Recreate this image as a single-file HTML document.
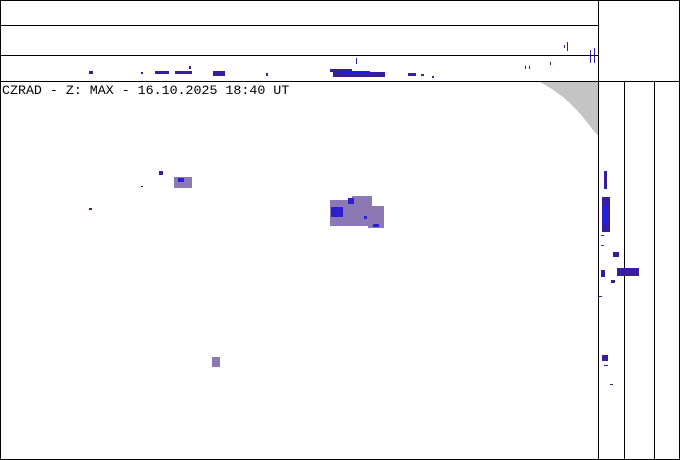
<!DOCTYPE html>
<html><head><meta charset="utf-8"><style>
html,body{margin:0;padding:0;background:#fff;}
svg{display:block;}
text{font-family:"Liberation Mono",monospace;}
</style></head><body>
<svg width="680" height="460" viewBox="0 0 680 460" xmlns="http://www.w3.org/2000/svg" shape-rendering="crispEdges">
<rect width="680" height="460" fill="#fff"/>
<polygon points="540,82 598,82 598,136 590,126 582,116 573,106 563,97 552,89" fill="#c4c4c4"/>
<g stroke="#000" stroke-width="1.3" fill="none">
<rect x="0.5" y="0.5" width="679" height="459"/>
<line x1="0" y1="25.5" x2="598" y2="25.5"/>
<line x1="0" y1="55.5" x2="598" y2="55.5"/>
<line x1="0" y1="81.5" x2="680" y2="81.5"/>
<line x1="598.5" y1="0" x2="598.5" y2="460"/>
<line x1="624.5" y1="81" x2="624.5" y2="460"/>
<line x1="654.5" y1="81" x2="654.5" y2="460"/>
</g>
<text x="2" y="94" font-size="13.3" fill="#000">CZRAD - Z: MAX - 16.10.2025 18:40 UT</text>
<!-- top strip -->
<g fill="#3a1ca0">
<rect x="89" y="71" width="4" height="3"/>
<rect x="141" y="72" width="2" height="2"/>
<rect x="155" y="71" width="14" height="3"/>
<rect x="175" y="71" width="17" height="3"/>
<rect x="189" y="66" width="2" height="3"/>
<rect x="213" y="71" width="12" height="5"/>
<rect x="266" y="73" width="2" height="3"/>
<rect x="330" y="69" width="22" height="3"/>
<rect x="333" y="72" width="52" height="5"/>
<rect x="356" y="58" width="1" height="6"/>
<rect x="408" y="73" width="8" height="3"/>
<rect x="421" y="74" width="3" height="2"/>
<rect x="432" y="76" width="2" height="2"/>
<rect x="525" y="66" width="1" height="3"/>
<rect x="529" y="66" width="1" height="3"/>
<rect x="550" y="62" width="1" height="3"/>
<rect x="564" y="45" width="1" height="3"/>
<rect x="567" y="42" width="1" height="9"/>
<rect x="590" y="50" width="1" height="13"/>
<rect x="594" y="48" width="1" height="15"/>
</g>
<rect x="340" y="71" width="30" height="3" fill="#2020e0"/>
<!-- main echoes -->
<g fill="#8c78b4">
<rect x="174" y="177" width="18" height="11"/>
<rect x="330" y="200" width="30" height="26"/>
<rect x="352" y="196" width="20" height="30"/>
<rect x="368" y="206" width="16" height="22"/>
<rect x="212" y="357" width="8" height="10"/>
</g>
<g fill="#2a20d0">
<rect x="178" y="178" width="6" height="4"/>
<rect x="331" y="207" width="12" height="10"/>
<rect x="348" y="198" width="6" height="6"/>
<rect x="364" y="216" width="3" height="3"/>
<rect x="373" y="224" width="6" height="3"/>
</g>
<g fill="#3a1ca0">
<rect x="159" y="171" width="4" height="4"/>
<rect x="141" y="186" width="2" height="1"/>
<rect x="89" y="208" width="3" height="2"/>
</g>
<!-- right strip -->
<g fill="#3a1ca0">
<rect x="604" y="171" width="3" height="18"/>
<rect x="602" y="197" width="8" height="35"/>
<rect x="601" y="235" width="3" height="1"/>
<rect x="601" y="245" width="3" height="1"/>
<rect x="613" y="252" width="6" height="5"/>
<rect x="617" y="268" width="22" height="8"/>
<rect x="601" y="270" width="4" height="7"/>
<rect x="611" y="280" width="4" height="3"/>
<rect x="599" y="296" width="3" height="1"/>
<rect x="602" y="355" width="6" height="6"/>
<rect x="604" y="365" width="4" height="1"/>
<rect x="610" y="384" width="3" height="1"/>
</g>
<rect x="603" y="205" width="4" height="20" fill="#2020e0"/>
</svg>
</body></html>
